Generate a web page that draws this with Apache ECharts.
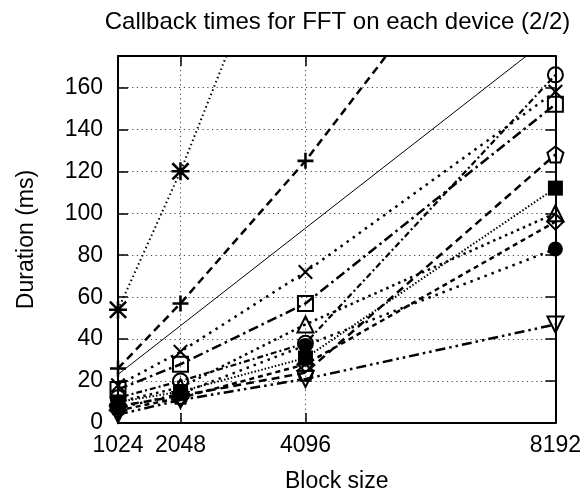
<!DOCTYPE html>
<html>
<head>
<meta charset="utf-8">
<script src="https://cdn.jsdelivr.net/npm/echarts@6/dist/echarts.min.js"></script>
<style>html,body{margin:0;padding:0;background:#fff}#c{width:584px;height:498px}</style>
</head>
<body>
<div id="c"></div>
<script>
const blockSizes = [1024, 2048, 4096, 8192];
const xTickLabels = [1024, 2048, 4096, 8192];
const yTickLabels = [0, 20, 40, 60, 80, 100, 120, 140, 160];

const asteriskSeries = [54, 120, 270, 540];
const plusSeries = [26, 57, 125, 280];
const realTimeSeries = [23.2, 46.4, 92.9, 185.8];
const crossSeries = [18, 34, 72, 158];
const squareSeries = [16, 28, 57, 152];
const circleSeries = [12, 20, 38, 166];
const pentagonSeries = [8, 13, 24, 128];
const filledSquareSeries = [10, 15, 31, 112];
const triangleSeries = [10, 17, 47, 100];
const diamondSeries = [6, 12, 28, 96];
const filledCircleSeries = [7, 14, 37, 83];
const triangleDownSeries = [4, 11, 21, 47];

const FONT = 'Liberation Sans';
const FS = 23;
const P_PLUS = 'path://M4.2,0H5.8V10H4.2Z M0,4.2H10V5.8H0Z';
const P_CROSS = 'path://M0,1L1,0L10,9L9,10Z M9,0L10,1L1,10L0,9Z';
const P_AST = 'path://M4.3,0H5.7V10H4.3Z M0,4.3H10V5.7H0Z M0,1L1,0L10,9L9,10Z M9,0L10,1L1,10L0,9Z';
const P_PENT = 'path://M5,0L10,3.8L8.1,10L1.9,10L0,3.8Z';
const P_TRIDOWN = 'path://M0,0L10,0L5,9Z';
const P_TRIUP = 'path://M5,0L10,9L0,9Z';

function mk(name, values, symbol, size, hollow, dash, width) {
  return {
    name: name,
    type: 'line',
    data: blockSizes.map((b, i) => [b, values[i]]),
    symbol: symbol,
    symbolSize: size,
    showSymbol: symbol !== 'none',
    lineStyle: { color: '#000', width: width, type: dash },
    itemStyle: hollow ? { color: 'rgba(0,0,0,0)', borderColor: '#000', borderWidth: 2 } : { color: '#000', borderColor: '#000', borderWidth: 0 },
    emphasis: { disabled: true },
    animation: false,
    clip: true,
    z: 3
  };
}

const series = [
  mk('real time', realTimeSeries, 'none', 0, false, 'solid', 1),
  mk('asterisk', asteriskSeries, P_AST, 18, false, [1.5, 3], 2),
  mk('plus', plusSeries, P_PLUS, 16, false, [8, 5], 2.5),
  mk('cross', crossSeries, P_CROSS, 15, false, [2.5, 5], 2.5),
  mk('square', squareSeries, 'rect', 15, true, [10, 4, 2.5, 4], 2.5),
  mk('circle', circleSeries, 'circle', 15, true, [2, 3, 6, 3], 2.2),
  mk('pentagon', pentagonSeries, P_PENT, 16, true, [8, 5], 2.5),
  mk('filled square', filledSquareSeries, 'rect', 15, false, [1.5, 2], 2),
  mk('triangle', triangleSeries, P_TRIUP, 16, true, [2.5, 4], 2.5),
  mk('diamond', diamondSeries, 'diamond', 16, true, [5, 4], 2.5),
  mk('filled circle', filledCircleSeries, 'circle', 15, false, [2.5, 5], 2.5),
  mk('triangle down', triangleDownSeries, P_TRIDOWN, 16, true, [10, 4, 2.5, 4, 2.5, 4], 2.5)
];

const gridLine = { show: true, lineStyle: { color: '#444', width: 1, type: [1.2, 3.5] } };
const plain = v => String(v);

const option = {
  backgroundColor: '#fff',
  animation: false,
  title: {
    text: 'Callback times for FFT on each device (2/2)',
    left: 337.5,
    top: 10,
    padding: 0,
    textAlign: 'center',
    textStyle: { fontFamily: FONT, fontSize: 24, fontWeight: 'normal', color: '#000' }
  },
  grid: { left: 118, right: 27, top: 56, bottom: 72, containLabel: false },
  xAxis: [
    {
      type: 'value', min: 1024, max: 8192, interval: 1024,
      name: 'Block size', nameLocation: 'middle', nameGap: 47,
      nameTextStyle: { fontFamily: FONT, fontSize: FS, color: '#000' },
      axisLine: { show: true, onZero: false, lineStyle: { color: '#000', width: 2 } },
      axisTick: { show: true, inside: true, length: 10, customValues: xTickLabels, lineStyle: { color: '#000', width: 1.5 } },
      axisLabel: { customValues: xTickLabels, formatter: plain, margin: 11, fontFamily: FONT, fontSize: FS, color: '#000' },
      splitLine: gridLine
    },
    {
      type: 'value', min: 1024, max: 8192, interval: 1024, position: 'top',
      axisLine: { show: true, onZero: false, lineStyle: { color: '#000', width: 2 } },
      axisTick: { show: true, inside: true, length: 10, customValues: xTickLabels, lineStyle: { color: '#000', width: 1.5 } },
      axisLabel: { show: false },
      splitLine: { show: false }
    }
  ],
  yAxis: [
    {
      type: 'value', min: 0, max: 175, interval: 20,
      name: 'Duration (ms)', nameLocation: 'middle', nameGap: 80, nameRotate: 90,
      nameTextStyle: { fontFamily: FONT, fontSize: FS, color: '#000' },
      axisLine: { show: true, onZero: false, lineStyle: { color: '#000', width: 2 } },
      axisTick: { show: true, inside: true, length: 10, customValues: yTickLabels, lineStyle: { color: '#000', width: 1.5 } },
      axisLabel: { customValues: yTickLabels, formatter: plain, margin: 15, fontFamily: FONT, fontSize: FS, color: '#000' },
      splitLine: gridLine
    },
    {
      type: 'value', min: 0, max: 175, interval: 20, position: 'right',
      axisLine: { show: true, onZero: false, lineStyle: { color: '#000', width: 2 } },
      axisTick: { show: true, inside: true, length: 10, customValues: yTickLabels, lineStyle: { color: '#000', width: 1.5 } },
      axisLabel: { show: false },
      splitLine: { show: false }
    }
  ],
  series: series
};

const chart = echarts.init(document.getElementById('c'), null, { renderer: 'canvas' });
chart.setOption(option);
</script>
</body>
</html>
